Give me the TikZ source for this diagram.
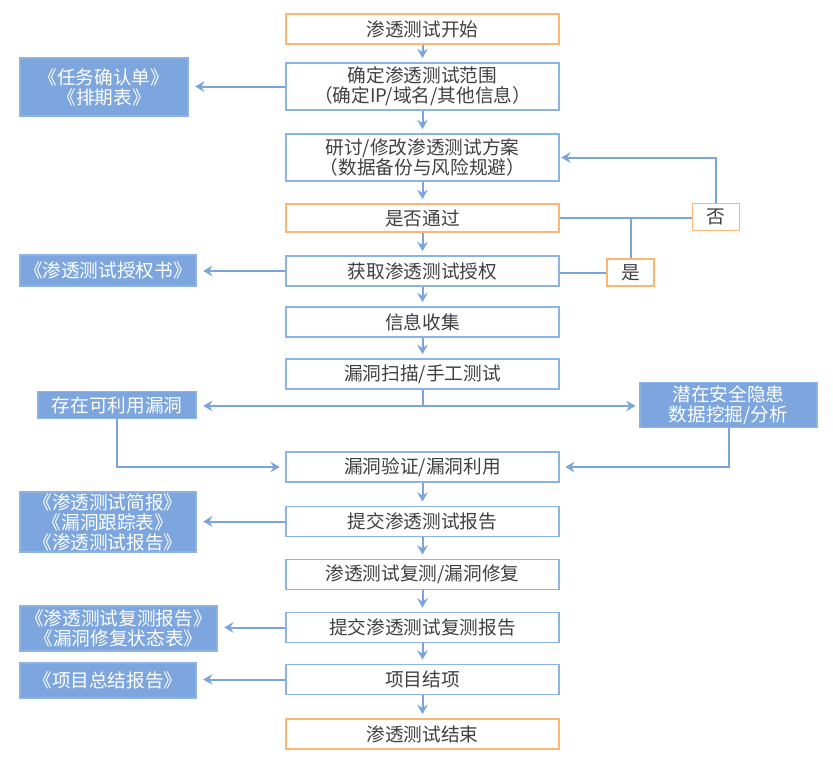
\documentclass[tikz,border=0pt]{standalone}
\usepackage{fontspec}
\setmainfont{Noto Sans CJK SC}
\usepackage{tikz}
\usetikzlibrary{arrows.meta,positioning,calc}
\definecolor{lineblue}{RGB}{123,163,220}
\definecolor{boxblue}{RGB}{125,166,222}
\definecolor{edgeblue}{RGB}{141,179,226}
\definecolor{lightorange}{RGB}{251,182,118}
\definecolor{textgray}{RGB}{64,64,64}

\begin{document}
\begin{tikzpicture}[x=0.75pt, y=-0.75pt, font=\fontsize{14}{15}\selectfont,
    mainbox/.style={draw=edgeblue, line width=1.4pt, fill=white, text=textgray, align=center,
        inner sep=0pt, minimum width=204.75pt, minimum height=22.5pt},
    endbox/.style={mainbox, draw=lightorange},
    docbox/.style={draw=edgeblue, line width=0.8pt, fill=boxblue, text=white, align=center, inner sep=0pt},
    choice/.style={draw=lightorange, line width=1.4pt, fill=white, text=textgray,
        minimum width=35.25pt, minimum height=20.25pt, inner sep=0pt},
    flow/.style={-{Stealth[length=7pt,width=8pt,inset=2.5pt]}, line width=1.5pt, lineblue},
    link/.style={line width=1.5pt, lineblue}]
        \useasboundingbox (0,0) rectangle (833,760);
        % main column
        \node[endbox] (start) at (422.5,29) {渗透测试开始};
        \node[mainbox, minimum height=35.25pt] (scope) at (422.5,86.5) {确定渗透测试范围\\（确定IP/域名/其他信息）};
        \node[mainbox, minimum height=35.25pt] (plan) at (422.5,157.5) {研讨/修改渗透测试方案\\（数据备份与风险规避）};
        \node[endbox, minimum height=21pt] (pass) at (422.5,218) {是否通过};
        \node[mainbox] (auth) at (422.5,271) {获取渗透测试授权};
        \node[mainbox] (collect) at (422.5,322) {信息收集};
        \node[mainbox] (scan) at (422.5,374) {漏洞扫描/手工测试};
        \node[mainbox] (verify) at (422.5,467) {漏洞验证/漏洞利用};
        \node[mainbox] (report) at (422.5,521.5) {提交渗透测试报告};
        \node[mainbox] (retest) at (422.5,574.5) {渗透测试复测/漏洞修复};
        \node[mainbox] (rereport) at (422.5,627.5) {提交渗透测试复测报告};
        \node[mainbox] (close) at (422.5,679.5) {项目结项};
        \node[endbox] (finish) at (422.5,734) {渗透测试结束};
        % documents and side boxes
        \node[docbox, minimum width=126pt, minimum height=43.5pt] (taskdoc) at (104,87) {《任务确认单》\\《排期表》};
        \node[docbox, minimum width=132pt, minimum height=23.25pt] (authdoc) at (108,270.5) {《渗透测试授权书》};
        \node[docbox, minimum width=118.5pt, minimum height=20.25pt] (vuln) at (117,405) {存在可利用漏洞};
        \node[docbox, minimum width=132.75pt, minimum height=33.75pt] (riskdoc) at (728.5,405) {潜在安全隐患\\数据挖掘/分析};
        \node[docbox, minimum width=132pt, minimum height=45pt] (reportdoc) at (108,522) {《渗透测试简报》\\《漏洞跟踪表》\\《渗透测试报告》};
        \node[docbox, minimum width=147.75pt, minimum height=33.75pt] (retestdoc) at (118.5,628.5) {《渗透测试复测报告》\\《漏洞修复状态表》};
        \node[docbox, minimum width=132pt, minimum height=26.25pt] (summarydoc) at (108,680.5) {《项目总结报告》};
        \node[choice] (nobox) at (716,217) {否};
        \node[choice] (yesbox) at (630.5,272.5) {是};
        % downward flow
        \draw[flow, shorten >=3pt] (start) -- (scope);
        \draw[flow, shorten >=3pt] (scope) -- (plan);
        \draw[flow, shorten >=3pt] (plan) -- (pass);
        \draw[flow, shorten >=3pt] (pass) -- (auth);
        \draw[flow, shorten >=3pt] (auth) -- (collect);
        \draw[flow, shorten >=3pt] (collect) -- (scan);
        \draw[flow, shorten >=3pt] (verify) -- (report);
        \draw[flow, shorten >=3pt] (report) -- (retest);
        \draw[flow, shorten >=3pt] (retest) -- (rereport);
        \draw[flow, shorten >=3pt] (rereport) -- (close);
        \draw[flow, shorten >=3pt] (close) -- (finish);
        % outputs to the left
        \draw[flow, shorten >=5pt] (scope.west) -- (scope.west -| taskdoc.east);
        \draw[flow, shorten >=5pt] (auth.west) -- (auth.west -| authdoc.east);
        \draw[flow, shorten >=5pt] (report.west) -- (report.west -| reportdoc.east);
        \draw[flow, shorten >=5pt] (rereport.west) -- (rereport.west -| retestdoc.east);
        \draw[flow, shorten >=5pt] (close.west) -- (close.west -| summarydoc.east);
        % decision
        \draw[link] (pass.east) -- (pass.east -| nobox.west);
        \draw[link] (pass.east -| yesbox.north) -- (yesbox.north);
        \draw[link] (yesbox.west) -- (yesbox.west -| auth.east);
        \draw[flow, shorten >=1pt] (nobox.north) |- (plan.east);
        % scan results
        \coordinate (split) at ($(scan.south)+(0,16)$);
        \draw[link] (scan.south) -- (split);
        \draw[flow, shorten >=5pt] (split) -- (split -| vuln.east);
        \draw[flow, shorten >=3pt] (split) -- (split -| riskdoc.west);
        \draw[flow, shorten >=4pt] (vuln.south) |- (verify.west);
        \draw[flow, shorten >=4pt] (riskdoc.south) |- (verify.east);
    \end{tikzpicture}
\end{document}
